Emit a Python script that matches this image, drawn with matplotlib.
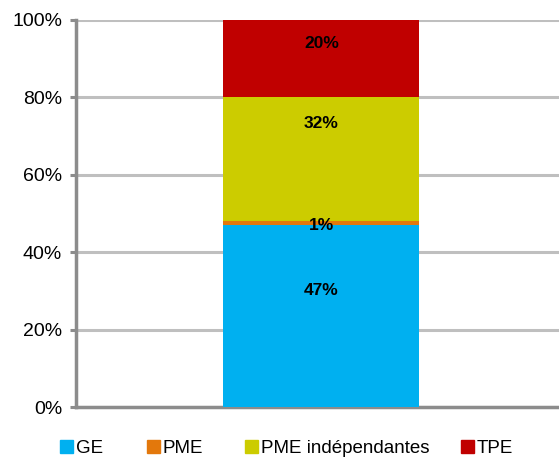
import matplotlib
matplotlib.use("Agg")
import matplotlib.pyplot as plt
from matplotlib.patches import Patch
from matplotlib.ticker import PercentFormatter

# ---- data ---------------------------------------------------------------
series = ["GE", "PME", "PME indépendantes", "TPE"]
shares = [47, 1, 32, 20]
labels = ["47%", "1%", "32%", "20%"]
colors = ["#00B0F0", "#E3780C", "#CCCC00", "#C00000"]
# where each label sits inside its segment (0 = bottom, 1 = top)
label_frac = [0.64, 0.0, 0.79, 0.69]
# left edge of each legend entry, in figure fraction
legend_x = [0.107, 0.263, 0.438, 0.825]

plt.rcParams["font.family"] = ["Liberation Sans", "DejaVu Sans"]

fig = plt.figure(figsize=(5.59, 4.61), dpi=100)
ax = fig.add_axes([0.136, 0.117, 0.864, 0.84])

bottom = 0
for name, val, col, lab, frac in zip(series, shares, colors, labels, label_frac):
    ax.bar(0, val, width=0.406, bottom=bottom, color=col, label=name, zorder=3)
    ax.text(0, bottom + val * frac, lab, ha="center", va="center",
            fontsize=12.5, fontweight="bold", color="black", zorder=4)
    bottom += val

ax.set_xlim(-0.508, 0.492)
ax.set_ylim(0, 100)
ax.set_yticks(range(0, 101, 20))
ax.yaxis.set_major_formatter(PercentFormatter(decimals=0))
ax.set_xticks([])
ax.grid(axis="y", color="#BFBFBF", lw=2.2, zorder=0)
ax.tick_params(axis="y", labelsize=14, length=4, width=2.2, color="#8C8C8C", pad=6)

for s in ["top", "right"]:
    ax.spines[s].set_visible(False)
for s in ["left", "bottom"]:
    ax.spines[s].set_color("#8C8C8C")
    ax.spines[s].set_linewidth(2.5)

# one legend per entry so the spacing follows the original
for name, col, x in zip(series, colors, legend_x):
    fig.legend([Patch(color=col)], [name], loc="center left",
               bbox_to_anchor=(x, 0.028), frameon=False, fontsize=13.5,
               borderpad=0, borderaxespad=0,
               handlelength=0.7, handleheight=0.7, handletextpad=0.15)

fig.savefig("out.png", dpi=100)
